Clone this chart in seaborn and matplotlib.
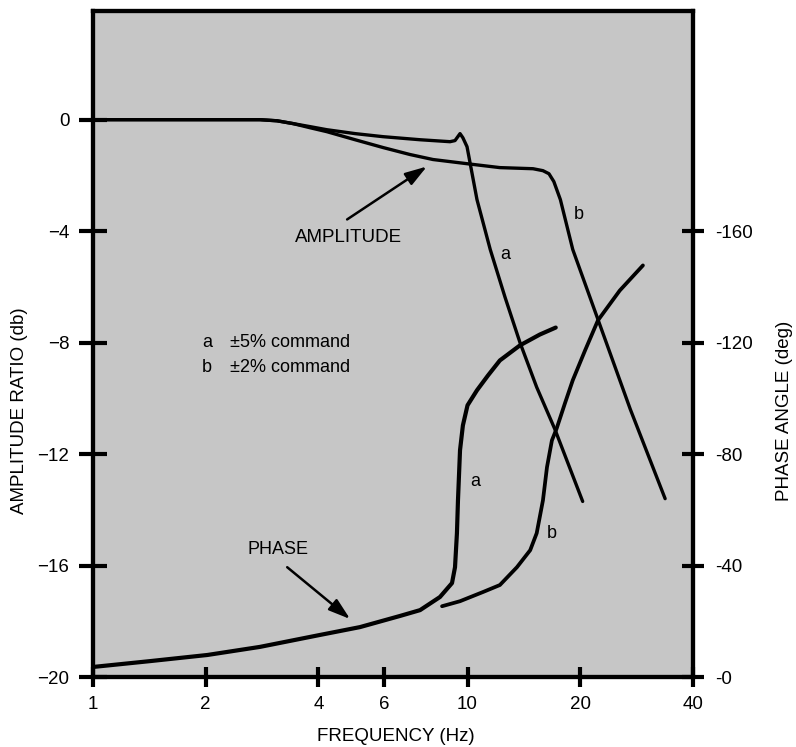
import matplotlib
matplotlib.use("Agg")
import matplotlib.pyplot as plt
import matplotlib.ticker as mticker
import seaborn as sns
import pandas as pd

# ---------------- data ----------------
amp_a_freq = [1.0, 1.93, 2.79, 3.1, 3.42, 3.80, 4.21, 5.01, 5.95, 7.47, 8.98, 9.26, 9.55,
              9.72, 9.97, 10.6, 11.5, 12.6, 13.8, 15.3, 17.1, 20.3]
amp_a_db = [0.0, 0.0, 0.0, -0.04, -0.14, -0.25, -0.36, -0.50, -0.61, -0.72, -0.79, -0.75, -0.50,
            -0.65, -0.97, -2.87, -4.66, -6.38, -7.99, -9.6, -11.1, -13.7]

amp_b_freq = [1.0, 1.93, 2.79, 3.1, 3.42, 3.80, 4.21, 5.01, 5.95, 7.02, 8.09, 9.97, 12.2,
              14.96, 15.9, 16.5, 17.0, 17.7, 19.1, 22.3, 27.2, 33.7]
amp_b_db = [0.0, 0.0, 0.0, -0.04, -0.14, -0.29, -0.43, -0.72, -1.0, -1.25, -1.43, -1.58, -1.72,
            -1.76, -1.83, -1.94, -2.22, -2.87, -4.66, -7.17, -10.39, -13.6]

ph_a_freq = [1.0, 1.42, 2.02, 2.79, 4.04, 5.16, 6.60, 7.47, 8.44, 9.09, 9.26, 9.37, 9.43,
             9.55, 9.72, 10.0, 10.6, 11.34, 12.2, 13.8, 15.6, 17.2]
ph_a_deg = [3.6, 5.7, 7.9, 10.8, 15.1, 17.9, 21.9, 24.0, 28.7, 33.7, 39.4, 51.6, 63.4,
            81.4, 90.3, 97.5, 102.9, 108.2, 113.6, 119.0, 122.9, 125.4]

ph_b_freq = [8.55, 9.55, 11.0, 12.2, 13.55, 14.7, 15.3, 15.9, 16.3, 16.8, 17.3, 18.2,
             19.1, 20.6, 22.3, 25.5, 29.4]
ph_b_deg = [25.4, 27.2, 30.5, 33.0, 39.4, 45.5, 51.6, 63.4, 75.3, 84.9, 89.2, 98.2,
            106.5, 117.2, 128.0, 138.7, 147.7]

x_ticks = [1, 2, 4, 6, 10, 20, 40]
amp_ticks = [0, -4, -8, -12, -16, -20]
amp_tick_labels = ["0", "\u22124", "\u22128", "\u221212", "\u221216", "\u221220"]
ph_ticks = [0, 40, 80, 120, 160]
ph_tick_labels = ["-0", "-40", "-80", "-120", "-160"]

legend_lines = [("a", "\u00b15% command"), ("b", "\u00b12% command")]

# ---------------- style ----------------
sns.set_theme(style="ticks")
plt.rcParams["font.family"] = ["Liberation Sans", "DejaVu Sans"]
plt.rcParams["axes.unicode_minus"] = True
plt.rcParams["text.color"] = "black"
plt.rcParams["axes.labelcolor"] = "black"
plt.rcParams["xtick.color"] = "black"
plt.rcParams["ytick.color"] = "black"

fig = plt.figure(figsize=(7.96, 7.47), dpi=100)
ax = fig.add_axes([93 / 796, 70 / 747, 600 / 796, 666 / 747])
ax.set_facecolor("#c6c6c6")
ax2 = ax.twinx()

df_aa = pd.DataFrame({"f": amp_a_freq, "v": amp_a_db})
df_ab = pd.DataFrame({"f": amp_b_freq, "v": amp_b_db})
df_pa = pd.DataFrame({"f": ph_a_freq, "v": ph_a_deg})
df_pb = pd.DataFrame({"f": ph_b_freq, "v": ph_b_deg})

kw = dict(x="f", y="v", sort=False, estimator=None, color="black", legend=False)
sns.lineplot(data=df_ab, ax=ax, linewidth=2.4, **kw)
sns.lineplot(data=df_aa, ax=ax, linewidth=2.4, **kw)
sns.lineplot(data=df_pa, ax=ax2, linewidth=3.0, **kw)
sns.lineplot(data=df_pb, ax=ax2, linewidth=2.7, **kw)

for a in (ax, ax2):
    a.set_xscale("log")
    a.set_xlim(1, 40)
    a.set_xlabel("")
    a.set_ylabel("")
    for s in a.spines.values():
        s.set_linewidth(3.0)
        s.set_color("black")

ax.set_ylim(-20, 3.9)
ax2.set_ylim(0, 239)

ax.xaxis.set_major_locator(mticker.FixedLocator(x_ticks))
ax.xaxis.set_major_formatter(mticker.FixedFormatter([str(t) for t in x_ticks]))
ax.xaxis.set_minor_locator(mticker.NullLocator())
ax.set_yticks(amp_ticks)
ax.set_yticklabels(amp_tick_labels)
ax2.set_yticks(ph_ticks)
ax2.set_yticklabels(ph_tick_labels)

ax.tick_params(axis="y", direction="inout", length=20, width=3, pad=7,
               labelsize=13.5, colors="black")
ax.tick_params(axis="x", direction="inout", length=14, width=3, pad=7,
               labelsize=13.5, colors="black")
ax2.tick_params(axis="y", direction="inout", length=16, width=3, pad=8,
                labelsize=13.5, colors="black")

ax.set_xlabel("FREQUENCY (Hz)", fontsize=13.5, va="center")
ax.xaxis.set_label_coords(0.505, -0.089)
ax.set_ylabel("AMPLITUDE RATIO (db)", fontsize=13.5, va="center")
ax.yaxis.set_label_coords(-0.123, 0.40)
ax2.set_ylabel("PHASE ANGLE (deg)", fontsize=13.5, rotation=90, va="center")
ax2.yaxis.set_label_coords(1.152, 0.40)

# annotations
arrowprops = dict(arrowstyle="-|>,head_length=1.1,head_width=0.35", color="black",
                  lw=1.8, shrinkA=0, shrinkB=0)
ax.annotate("", xy=(7.79, -1.68), xytext=(4.77, -3.58), arrowprops=arrowprops)
ax.text(4.8, -4.23, "AMPLITUDE", fontsize=13.5, ha="center", va="center")
ax.annotate("", xy=(4.86, -17.92), xytext=(3.30, -16.06), arrowprops=arrowprops)
ax.text(3.12, -15.41, "PHASE", fontsize=13, ha="center", va="center")

for i, (k, txt) in enumerate(legend_lines):
    yy = 0.503 - i * 0.039
    ax.text(0.182, yy, k, transform=ax.transAxes, fontsize=13, ha="left", va="center")
    ax.text(0.228, yy, txt, transform=ax.transAxes, fontsize=13, ha="left", va="center")

for (xx, yy, s) in [(0.687, 0.635, "a"), (0.81, 0.694, "b"), (0.637, 0.293, "a"), (0.765, 0.216, "b")]:
    ax.text(xx, yy, s, transform=ax.transAxes, fontsize=13, ha="center", va="center")

fig.savefig("out.png", dpi=100)
